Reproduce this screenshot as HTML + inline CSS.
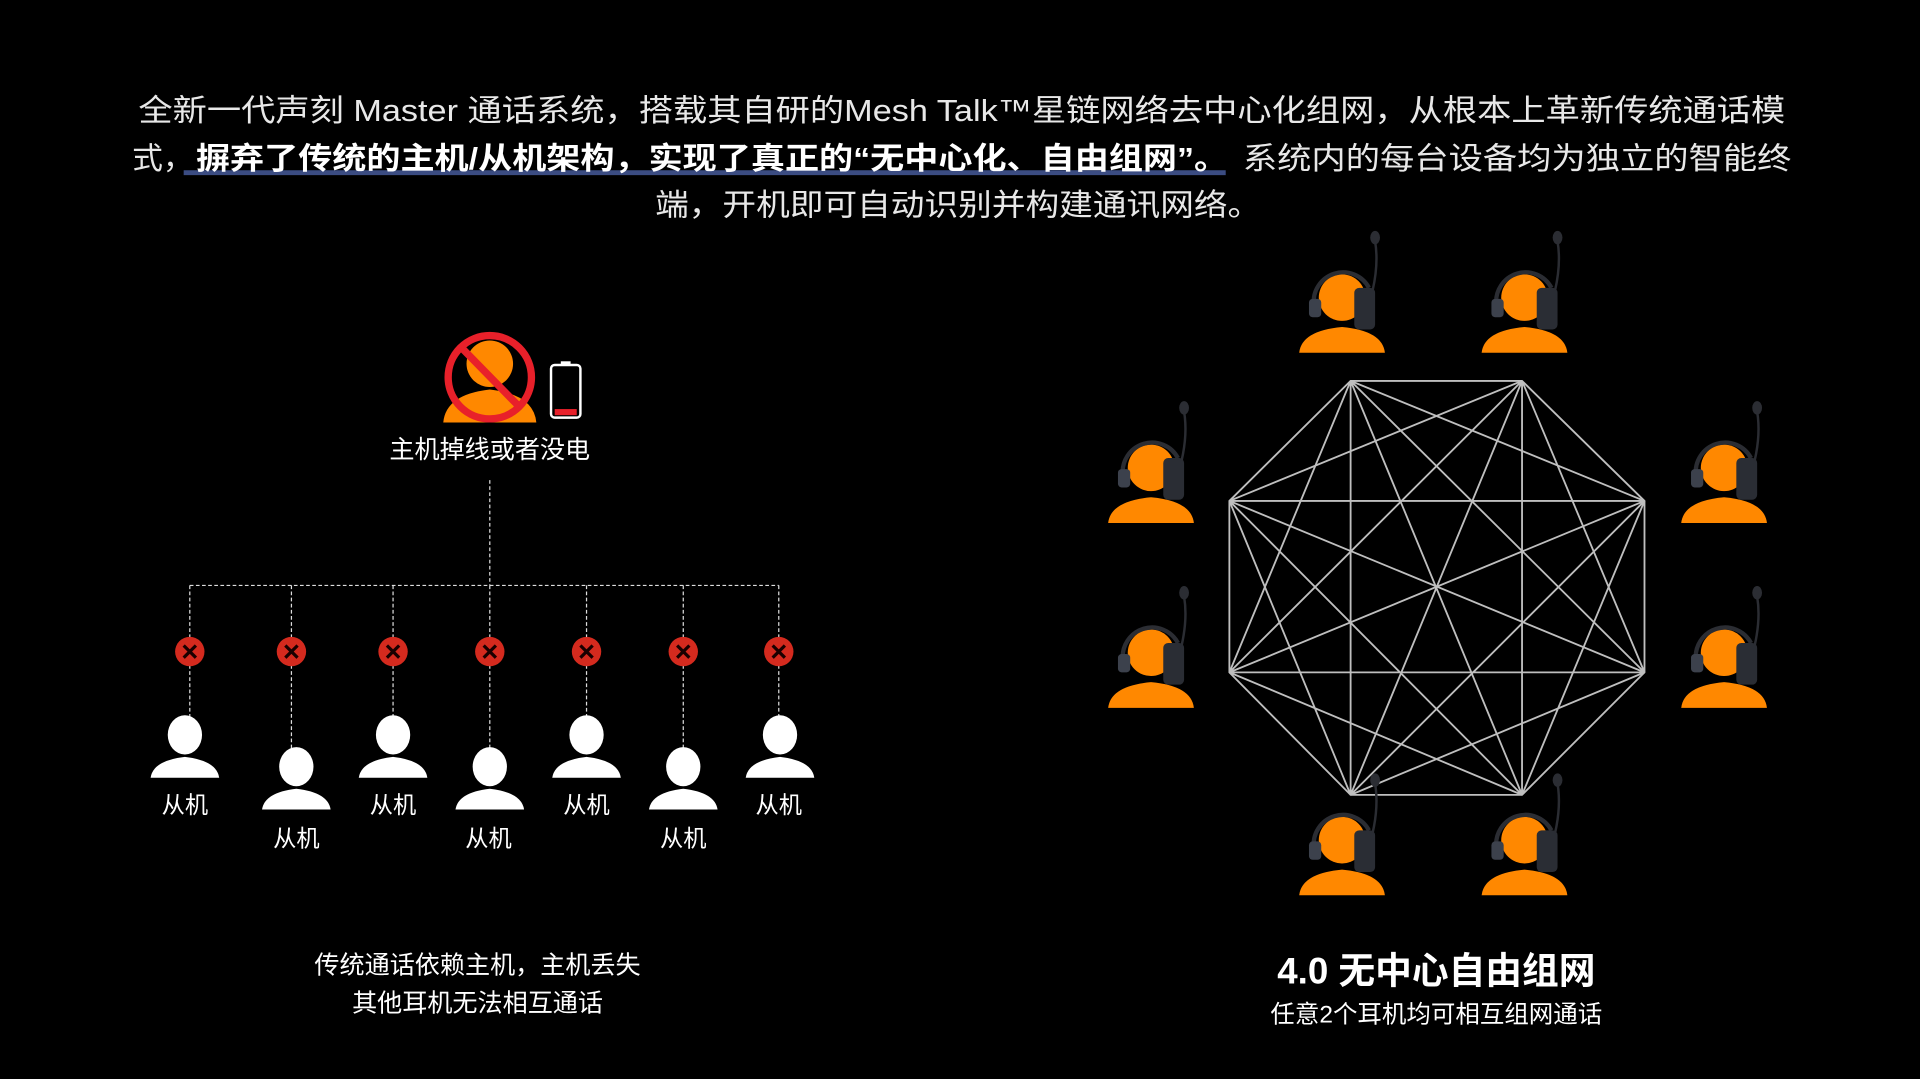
<!DOCTYPE html>
<html><head><meta charset="utf-8"><style>
html,body{margin:0;padding:0;background:#000;}
svg{display:block;}
text{font-family:"Liberation Sans","Noto Sans CJK SC",sans-serif;}
</style></head><body>
<svg width="1920" height="1079" viewBox="0 0 1568 881" preserveAspectRatio="none" xmlns="http://www.w3.org/2000/svg">
<defs>
<g id="hp">
  <path d="M-35,45 Q-33,27 0,24 Q33,27 35,45 Z" fill="#ff8800"/>
  <circle cx="0" cy="0" r="19" fill="#ff8800"/>
  <path d="M-23,6 A24,24 0 0 1 22,-8" fill="none" stroke="#2b2d33" stroke-width="3.5"/>
  <rect x="-27" y="1" width="10" height="15" rx="3" fill="#3c414c"/>
  <rect x="10" y="-8" width="17" height="34" rx="4" fill="#2a2d34"/>
  <path d="M25,-6 Q30,-28 27,-46" fill="none" stroke="#2b2d33" stroke-width="2"/>
  <ellipse cx="27" cy="-49" rx="4" ry="5.5" fill="#2b2d33"/>
</g>
<g id="wp">
  <path d="M-28,35 Q-26,21 0,18 Q26,21 28,35 Z" fill="#fff"/>
  <ellipse cx="0" cy="0" rx="14" ry="16" fill="#fff"/>
</g>
<g id="rx">
  <circle r="12" fill="#d42a1e"/>
  <path d="M-5,-5 L5,5 M5,-5 L-5,5" stroke="#1a0000" stroke-width="2.6"/>
</g>
</defs>

<g fill="#e8e8e8" font-size="25">
<text x="113" y="99" textLength="1345" lengthAdjust="spacingAndGlyphs">全新一代声刻 Master 通话系统，搭载其自研的Mesh Talk™星链网络去中心化组网，从根本上革新传统通话模</text>
<rect x="150" y="139" width="851" height="4" fill="#3b4c82"/>
<text x="108" y="138">式，</text>
<text x="160" y="138" fill="#fff" font-weight="bold" textLength="843" lengthAdjust="spacingAndGlyphs">摒弃了传统的主机/从机架构，实现了真正的“无中心化、自由组网”。</text>
<text x="1015" y="138" textLength="448" lengthAdjust="spacingAndGlyphs">系统内的每台设备均为独立的智能终</text>
<text x="535" y="176" textLength="495" lengthAdjust="spacingAndGlyphs">端，开机即可自动识别并构建通讯网络。</text>
</g>

<path d="M362,345 Q364,322 400,318 Q436,322 438,345 Z" fill="#ff8800"/>
<circle cx="400" cy="297" r="19" fill="#ff8800"/>
<circle cx="400" cy="308" r="34" fill="none" stroke="#e8202a" stroke-width="6"/>
<line x1="377" y1="284" x2="424" y2="332" stroke="#e8202a" stroke-width="6"/>
<rect x="450" y="298" width="24" height="43" rx="3" fill="none" stroke="#fff" stroke-width="2"/>
<rect x="458" y="295" width="8" height="3" fill="#fff"/>
<rect x="453" y="334" width="18" height="5" fill="#e8202a"/>
<text x="400" y="374" font-size="20.5" fill="#fff" text-anchor="middle">主机掉线或者没电</text>

<g stroke="#ddd" stroke-width="1" stroke-dasharray="3,2" fill="none">
<line x1="400" y1="392" x2="400" y2="478"/>
<line x1="155" y1="478" x2="636" y2="478"/>
<line x1="155" y1="478" x2="155" y2="596"/>
<line x1="238" y1="478" x2="238" y2="622"/>
<line x1="321" y1="478" x2="321" y2="597"/>
<line x1="400" y1="478" x2="400" y2="622"/>
<line x1="479" y1="478" x2="479" y2="597"/>
<line x1="558" y1="478" x2="558" y2="622"/>
<line x1="636" y1="478" x2="636" y2="597"/>
</g>
<use href="#rx" x="155" y="532"/><use href="#rx" x="238" y="532"/><use href="#rx" x="321" y="532"/>
<use href="#rx" x="400" y="532"/><use href="#rx" x="479" y="532"/><use href="#rx" x="558" y="532"/><use href="#rx" x="636" y="532"/>

<use href="#wp" x="151" y="600"/><use href="#wp" x="242" y="626"/><use href="#wp" x="321" y="600"/>
<use href="#wp" x="400" y="626"/><use href="#wp" x="479" y="600"/><use href="#wp" x="558" y="626"/><use href="#wp" x="637" y="600"/>
<g fill="#fff" font-size="19" text-anchor="middle">
<text x="151" y="664">从机</text><text x="242" y="691">从机</text><text x="321" y="664">从机</text>
<text x="399" y="691">从机</text><text x="479" y="664">从机</text><text x="558" y="691">从机</text><text x="636" y="664">从机</text>
</g>
<g fill="#fff" font-size="20.5" text-anchor="middle">
<text x="390" y="795">传统通话依赖主机，主机丢失</text>
<text x="390" y="826">其他耳机无法相互通话</text>
</g>

<g stroke="#bfbfbf" stroke-width="1.5" fill="none">
<polygon points="1103,311 1243,311 1343,409 1343,549 1243,649 1103,649 1004,549 1004,409"/>
<path d="M1103,311 L1343,409 M1103,311 L1343,549 M1103,311 L1243,649 M1103,311 L1103,649 M1103,311 L1004,549
M1243,311 L1343,549 M1243,311 L1243,649 M1243,311 L1103,649 M1243,311 L1004,549 M1243,311 L1004,409
M1343,409 L1243,649 M1343,409 L1103,649 M1343,409 L1004,549 M1343,409 L1004,409
M1343,549 L1103,649 M1343,549 L1004,549 M1343,549 L1004,409
M1243,649 L1004,549 M1243,649 L1004,409
M1103,649 L1004,409"/>
</g>
<use href="#hp" x="1096" y="243"/><use href="#hp" x="1245" y="243"/>
<use href="#hp" x="940" y="382"/><use href="#hp" x="940" y="533"/>
<use href="#hp" x="1408" y="382"/><use href="#hp" x="1408" y="533"/>
<use href="#hp" x="1096" y="686"/><use href="#hp" x="1245" y="686"/>

<text x="1173" y="803" font-size="30" font-weight="bold" fill="#fff" text-anchor="middle">4.0 无中心自由组网</text>
<text x="1173" y="835" font-size="20" fill="#fff" text-anchor="middle">任意2个耳机均可相互组网通话</text>
</svg>
</body></html>
